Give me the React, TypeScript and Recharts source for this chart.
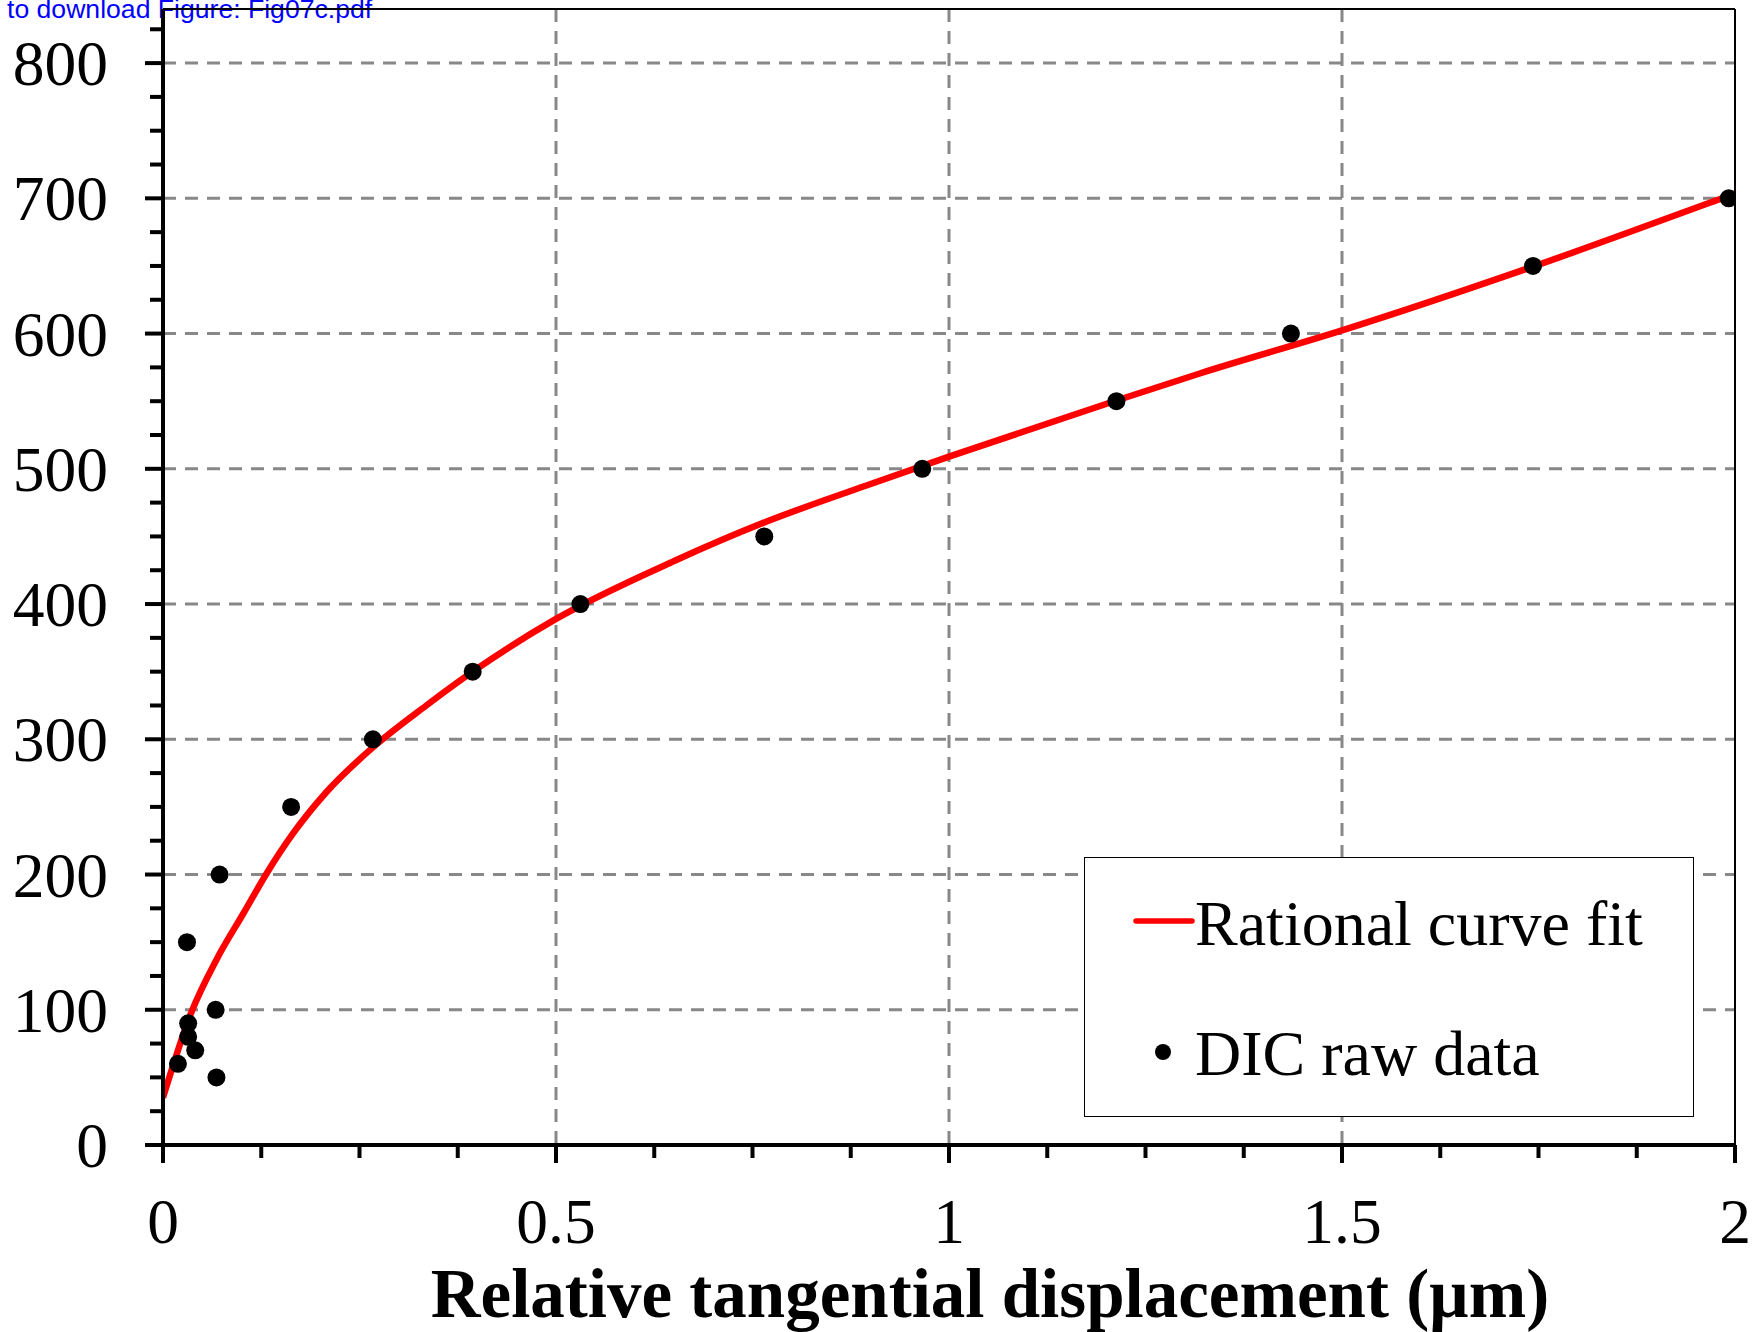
import React from "react";
import {
  CartesianGrid,
  ComposedChart,
  Legend,
  Line,
  ReferenceLine,
  Scatter,
  XAxis,
  YAxis,
} from "recharts";

// Rational curve fit (displacement in µm, load)
const fitX = [0, 0.036, 0.068, 0.102, 0.132, 0.165, 0.208, 0.267, 0.335, 0.394, 0.5, 0.651, 0.768, 0.894, 1.0, 1.213, 1.319, 1.501, 1.743, 1.981, 2.0];
const fitY = [35, 98, 137, 171, 201, 230, 261, 294, 325, 350, 389, 432, 461, 487.5, 509, 550.5, 570.5, 602.5, 649.5, 699.5, 703.5];

// DIC raw data points
const rawX = [0.019, 0.0305, 0.032, 0.032, 0.041, 0.067, 0.068, 0.072, 0.163, 0.267, 0.394, 0.531, 0.765, 0.966, 1.213, 1.435, 1.743, 1.992];
const rawY = [60, 150, 90, 80, 70, 100, 50, 200, 250, 300, 350, 400, 450, 500, 550, 600, 650, 700];

// axis ticks (minor every 0.125 / 25, labelled majors)
const xTicks = [0, 0.125, 0.25, 0.375, 0.5, 0.625, 0.75, 0.875, 1, 1.125, 1.25, 1.375, 1.5, 1.625, 1.75, 1.875, 2];
const xMajor = [0, 0.5, 1, 1.5, 2];
const xTickLabels = ["0", "0.5", "1", "1.5", "2"];
const yTicks = [0, 25, 50, 75, 100, 125, 150, 175, 200, 225, 250, 275, 300, 325, 350, 375, 400, 425, 450, 475, 500, 525, 550, 575, 600, 625, 650, 675, 700, 725, 750, 775, 800, 825];
const yMajor = [0, 100, 200, 300, 400, 500, 600, 700, 800];
const yTickLabels = ["0", "100", "200", "300", "400", "500", "600", "700", "800"];

const xTitle = "Relative tangential displacement (µm)";
const downloadNote = "to download Figure: Fig07c.pdf";

const fitData = fitX.map((x, i) => ({ x, y: fitY[i] }));
const rawData = rawX.map((x, i) => ({ x, y: rawY[i] }));

const SERIF = "'Times New Roman', 'Liberation Serif', serif";

function XTick({ x, y, payload }: any) {
  const idx = xMajor.indexOf(payload.value);
  const major = idx >= 0;
  return (
    <g>
      <line x1={x} x2={x} y1={y} y2={y + (major ? 18 : 13)} stroke="#000" strokeWidth={4} />
      {major && (
        <text x={x} y={y + 98} textAnchor="middle" fontFamily={SERIF} fontSize={63.5} fill="#000">
          {xTickLabels[idx]}
        </text>
      )}
    </g>
  );
}

function YTick({ x, y, payload }: any) {
  const idx = yMajor.indexOf(payload.value);
  const major = idx >= 0;
  return (
    <g>
      <line x1={x - (major ? 18 : 13)} x2={x} y1={y} y2={y} stroke="#000" strokeWidth={4} />
      {major && (
        <text x={x - 55} y={y + 22} textAnchor="end" fontFamily={SERIF} fontSize={63.5} fill="#000">
          {yTickLabels[idx]}
        </text>
      )}
    </g>
  );
}

function AxisTitle({ viewBox }: any) {
  const vb = viewBox || { x: 163, y: 1145, width: 1572 };
  return (
    <text
      x={vb.x + vb.width / 2 + 41}
      y={vb.y + 172}
      textAnchor="middle"
      fontFamily={SERIF}
      fontWeight="bold"
      fontSize={69}
      fill="#000"
    >
      {xTitle}
    </text>
  );
}

function FigLegend() {
  return (
    <div
      style={{
        width: 610,
        height: 260,
        border: "1.5px solid #000",
        background: "#fff",
        boxSizing: "border-box",
      }}
    >
      <svg width={607} height={257} style={{ display: "block" }}>
        <line x1={51} x2={107} y1={63} y2={63} stroke="#ff0000" strokeWidth={5.5} strokeLinecap="round" />
        <text x={110} y={87} fontFamily={SERIF} fontSize={64} fill="#000">
          Rational curve fit
        </text>
        <circle cx={78} cy={194} r={8} fill="#000" />
        <text x={110} y={217} fontFamily={SERIF} fontSize={64} fill="#000">
          DIC raw data
        </text>
      </svg>
    </div>
  );
}

export default function App() {
  return (
    <div style={{ position: "absolute", left: 0, top: 0, width: 1754, height: 1332, background: "#fff" }}>
      <svg width={1754} height={40} style={{ position: "absolute", left: 0, top: 0 }}>
        <text x={7} y={18} fontFamily="Arial, 'Liberation Sans', sans-serif" fontSize={26.6} fill="#0000ff">
          {downloadNote}
        </text>
      </svg>
      <ComposedChart width={1754} height={1332} margin={{ top: 9, right: 19, bottom: 0, left: 0 }}>
        <CartesianGrid
          stroke="#888888"
          strokeWidth={3}
          strokeDasharray="13 9"
          horizontalValues={[100, 200, 300, 400, 500, 600, 700, 800]}
          verticalValues={[0.5, 1, 1.5]}
        />
        <XAxis
          dataKey="x"
          type="number"
          domain={[0, 2]}
          ticks={xTicks}
          interval={0}
          height={187}
          tickSize={0}
          tickMargin={0}
          tickLine={false}
          axisLine={{ stroke: "#000", strokeWidth: 4 }}
          tick={<XTick />}
          label={<AxisTitle />}
          allowDataOverflow
        />
        <YAxis
          dataKey="y"
          type="number"
          domain={[0, 840]}
          ticks={yTicks}
          interval={0}
          width={163}
          tickSize={0}
          tickMargin={0}
          tickLine={false}
          axisLine={{ stroke: "#000", strokeWidth: 4 }}
          tick={<YTick />}
          allowDataOverflow
        />
        <ReferenceLine y={840} stroke="#000" strokeWidth={2} />
        <ReferenceLine x={2} stroke="#000" strokeWidth={2} />
        <Line
          data={fitData}
          dataKey="y"
          type="monotone"
          stroke="#ff0000"
          strokeWidth={6.5}
          dot={false}
          activeDot={false}
          isAnimationActive={false}
        />
        <Scatter
          data={rawData}
          dataKey="y"
          fill="#000"
          isAnimationActive={false}
          shape={(p: any) => <circle cx={p.cx} cy={p.cy} r={9} fill="#000" />}
        />
        <Legend
          layout="vertical"
          align="center"
          verticalAlign="middle"
          width={610}
          height={260}
          wrapperStyle={{ left: 1084, top: 857, width: 610, height: 260 }}
          content={() => <FigLegend />}
        />
      </ComposedChart>
    </div>
  );
}
